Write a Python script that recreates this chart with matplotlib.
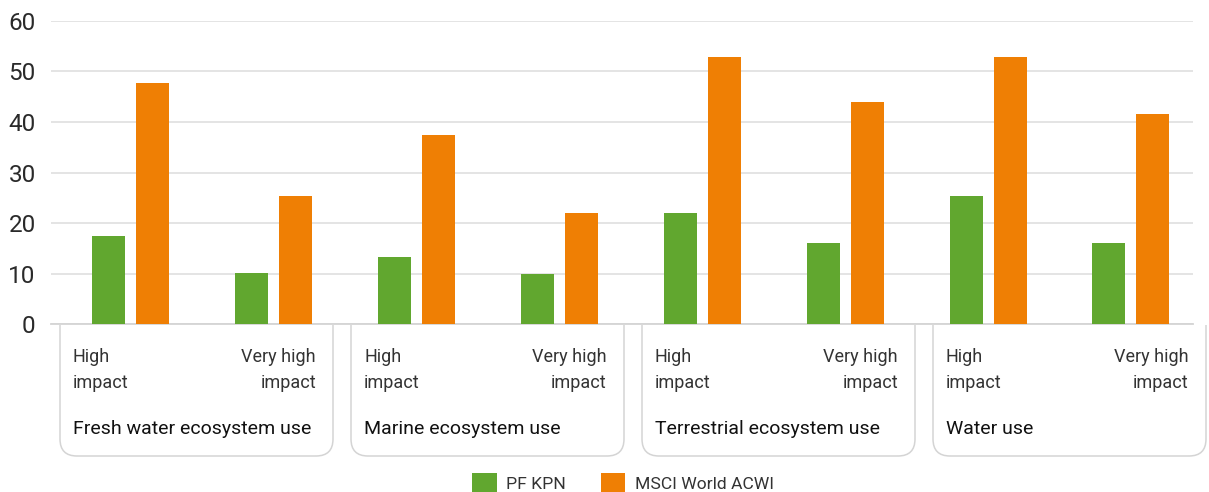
import matplotlib
matplotlib.use("Agg")
import matplotlib.pyplot as plt
import numpy as np
from matplotlib.path import Path
from matplotlib.patches import PathPatch

plt.rcParams['font.family'] = ['Roboto', 'DejaVu Sans']

# data
groups = ["Fresh water ecosystem use", "Marine ecosystem use",
          "Terrestrial ecosystem use", "Water use"]
levels = ["High\nimpact", "Very high\nimpact"]
pf_kpn = [17.4, 10.1, 13.3, 9.9, 22.0, 16.1, 25.3, 16.1]
msci_acwi = [47.7, 25.3, 37.4, 22.0, 52.8, 43.9, 52.8, 41.6]
series_names = ["PF KPN", "MSCI World ACWI"]
yticks = [0, 10, 20, 30, 40, 50, 60]

green = "#61a72f"
orange = "#ef7f04"
grid_col = "#e2e2e2"
line_col = "#d4d4d4"
text_col = "#2a2a2a"

W, H = 1209, 492
fig = plt.figure(figsize=(W / 100, H / 100), dpi=100)
ax = fig.add_axes([51 / W, 1 - 324.3 / H, (1193 - 51) / W, (324.3 - 20.7) / H])

x = np.arange(len(pf_kpn))
bw = 0.231
off = 0.154
b1 = ax.bar(x - off, pf_kpn, bw, color=green, label=series_names[0], zorder=3)
b2 = ax.bar(x + off, msci_acwi, bw, color=orange, label=series_names[1], zorder=3)

ax.set_xlim(-0.556, 7.434)
ax.set_ylim(0, 60)
ax.set_yticks(yticks)
ax.set_xticks([])
ax.tick_params(axis='y', length=0, pad=11, labelsize=17.5, labelcolor=text_col)
ax.grid(axis='y', color=grid_col, lw=1.3, zorder=0)
for s in ['top', 'right', 'left']:
    ax.spines[s].set_visible(False)
ax.spines['bottom'].set_color(line_col)
ax.spines['bottom'].set_linewidth(1.3)

# category boxes under the axis (pixel layout, y measured from the top)
top, bottom, rad = 325, 456, 17
box_w, box_step, box_x0 = 273, 291, 60
for g, name in enumerate(groups):
    L = box_x0 + box_step * g
    R = L + box_w
    pts = [(L, top), (L, bottom - rad), (L, bottom), (L + rad, bottom),
           (R - rad, bottom), (R, bottom), (R, bottom - rad), (R, top)]
    codes = [Path.MOVETO, Path.LINETO, Path.CURVE3, Path.CURVE3,
             Path.LINETO, Path.CURVE3, Path.CURVE3, Path.LINETO]
    verts = [(px / W, 1 - py / H) for px, py in pts]
    fig.add_artist(PathPatch(Path(verts, codes), transform=fig.transFigure,
                             fc='none', ec=line_col, lw=1.1))
    for k, lvl in enumerate(levels):
        xt = L + 13 if k == 0 else R - 17
        ha = 'left' if k == 0 else 'right'
        for j, ln in enumerate(lvl.split("\n")):
            fig.text(xt / W, 1 - (361.5 + 27 * j) / H, ln, ha=ha, va='baseline',
                     fontsize=13, color="#333333")
    fig.text((L + 13) / W, 1 - 434 / H, name, ha='left', va='baseline',
             fontsize=14, color="#111111")

fig.legend(handles=[b1, b2], labels=series_names, loc='center',
           bbox_to_anchor=(623 / W, 1 - 483 / H), ncol=2, frameon=False,
           fontsize=12.6, handlelength=1.4, handleheight=1.4,
           handletextpad=0.55, columnspacing=2.0, labelcolor="#333333")

fig.savefig("out.png", dpi=100)
